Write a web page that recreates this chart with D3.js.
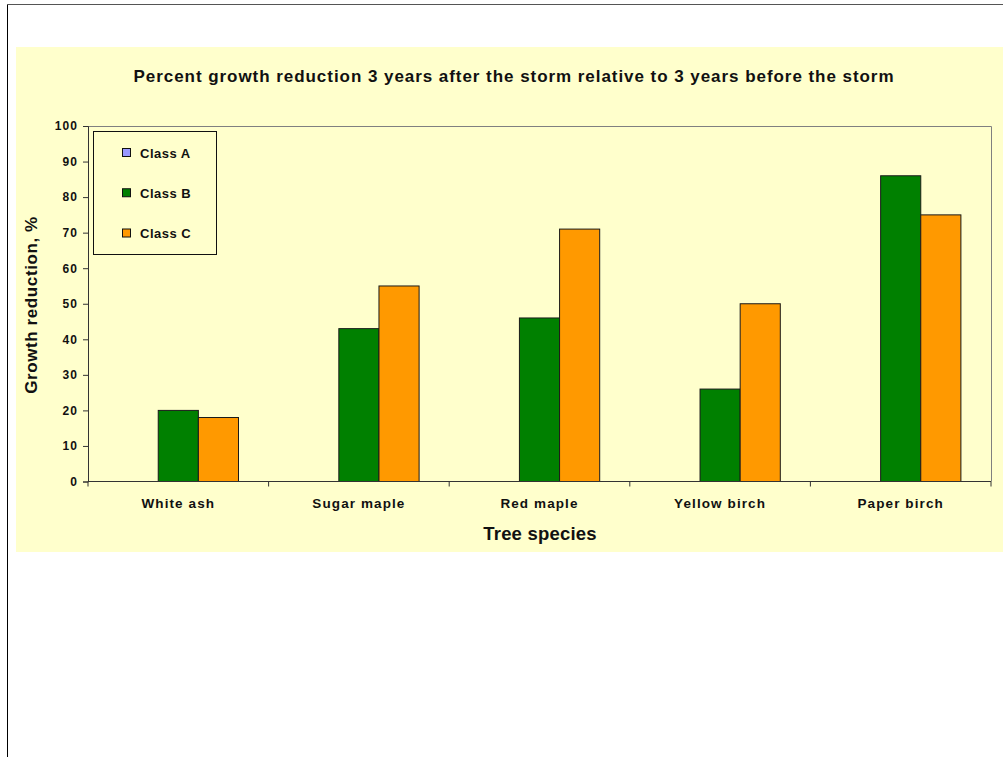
<!DOCTYPE html>
<html>
<head>
<meta charset="utf-8">
<script src="https://cdn.jsdelivr.net/npm/d3@7"></script>
<style>
  html, body { margin: 0; padding: 0; background: #ffffff; }
  svg { display: block; font-family: "Liberation Sans", Arial, sans-serif; }
</style>
</head>
<body>
<svg id="chart" width="1003" height="757"></svg>
<script>
// Tree species along the x axis
const species = ["White ash", "Sugar maple", "Red maple", "Yellow birch", "Paper birch"];
// Damage classes (one bar per class within each species)
const classes = ["Class A", "Class B", "Class C"];
const classColors = ["#9999FF", "#008000", "#FF9900"];
// Percent growth reduction per class; Class A has no values
const classA = [null, null, null, null, null];
const classB = [20, 43, 46, 26, 86];
const classC = [18, 55, 71, 50, 75];
const yTicks = [0, 10, 20, 30, 40, 50, 60, 70, 80, 90, 100];

const seriesValues = [classA, classB, classC];

const svg = d3.select("#chart");

// outer frame
svg.append("line").attr("x1", 7.5).attr("y1", 4.5).attr("x2", 1003).attr("y2", 4.5)
  .attr("stroke", "#555").attr("stroke-width", 1);
svg.append("line").attr("x1", 7.5).attr("y1", 4.5).attr("x2", 7.5).attr("y2", 757)
  .attr("stroke", "#000").attr("stroke-width", 1);

// chart area background
svg.append("rect").attr("x", 16).attr("y", 47).attr("width", 1003 - 16).attr("height", 505)
  .attr("fill", "#FFFFCC");

const plot = { left: 88, right: 991, top: 126, bottom: 481.5 };

const x = d3.scaleBand().domain(species).range([plot.left, plot.right]).paddingInner(0).paddingOuter(0);
const inner = d3.scaleBand().domain(classes)
  .range([x.bandwidth() / 6, x.bandwidth() * 5 / 6]).padding(0);
const y = d3.scaleLinear().domain([0, 100]).range([plot.bottom, plot.top]);

// plot area border (top and right)
svg.append("path")
  .attr("d", `M${plot.left},${plot.top + 0.5}H${plot.right + 0.5}V${plot.bottom}`)
  .attr("fill", "none").attr("stroke", "#808080").attr("stroke-width", 1);

// bars
const groups = svg.append("g").selectAll("g").data(species).join("g")
  .attr("transform", d => `translate(${x(d)},0)`);

groups.each(function(sp, i) {
  const g = d3.select(this);
  classes.forEach((cl, k) => {
    const v = seriesValues[k][i];
    if (v == null) return;
    g.append("rect")
      .attr("x", inner(cl))
      .attr("y", y(v))
      .attr("width", inner.bandwidth())
      .attr("height", y(0) - y(v))
      .attr("fill", classColors[k])
      .attr("stroke", "#1a1a1a")
      .attr("stroke-width", 1);
  });
});

// y axis
const yAxis = svg.append("g").attr("transform", `translate(${plot.left},0)`)
  .call(d3.axisLeft(y).tickValues(yTicks).tickSize(5).tickPadding(5).tickFormat(d3.format("d")));
yAxis.select(".domain").attr("stroke", "#333");
yAxis.selectAll(".tick line").attr("stroke", "#333");
yAxis.selectAll("text").attr("font-size", 12).attr("font-weight", "bold").attr("fill", "#111")
  .attr("letter-spacing", 1.1)
  .attr("font-family", "Liberation Sans, Arial, sans-serif");

// x axis with ticks at category boundaries
const xAxis = svg.append("g").attr("transform", `translate(0,${plot.bottom})`);
xAxis.append("line").attr("x1", plot.left).attr("x2", plot.right).attr("y1", 0).attr("y2", 0)
  .attr("stroke", "#333");
const boundaries = species.map(s => x(s)).concat([x(species[species.length - 1]) + x.bandwidth()]);
xAxis.selectAll("line.tk").data(boundaries).join("line").attr("class", "tk")
  .attr("x1", d => d).attr("x2", d => d).attr("y1", 0).attr("y2", 5).attr("stroke", "#333");
xAxis.selectAll("text").data(species).join("text")
  .attr("x", d => x(d) + x.bandwidth() / 2).attr("y", 26)
  .attr("text-anchor", "middle").attr("font-size", 13.5).attr("font-weight", "bold").attr("fill", "#111")
  .attr("letter-spacing", 1.1)
  .text(d => d);

// title
svg.append("text").attr("x", 514).attr("y", 81.5).attr("text-anchor", "middle")
  .attr("font-size", 17).attr("font-weight", "bold").attr("fill", "#111")
  .attr("letter-spacing", 0.95)
  .text("Percent growth reduction 3 years after the storm relative to 3 years before the storm");

// axis titles
svg.append("text").attr("x", 540).attr("y", 540).attr("text-anchor", "middle")
  .attr("font-size", 18.5).attr("font-weight", "bold").attr("fill", "#111")
  .attr("letter-spacing", 0.2)
  .text("Tree species");
svg.append("text").attr("transform", "translate(37,305) rotate(-90)").attr("text-anchor", "middle")
  .attr("font-size", 17).attr("font-weight", "bold").attr("fill", "#111")
  .attr("letter-spacing", 0.6)
  .text("Growth reduction, %");

// legend
const legend = svg.append("g");
legend.append("rect").attr("x", 93.5).attr("y", 131.5).attr("width", 123).attr("height", 123)
  .attr("fill", "#FFFFCC").attr("stroke", "#111").attr("stroke-width", 1);
const legendY = d3.scalePoint().domain(classes).range([152.5, 233]);
classes.forEach((cl, k) => {
  legend.append("rect").attr("x", 122.5).attr("y", legendY(cl) - 4).attr("width", 8).attr("height", 8)
    .attr("fill", classColors[k]).attr("stroke", "#111").attr("stroke-width", 1);
  legend.append("text").attr("x", 140).attr("y", legendY(cl) + 5)
    .attr("font-size", 13).attr("font-weight", "bold").attr("fill", "#111")
    .attr("letter-spacing", 0.5).text(cl);
});
</script>
</body>
</html>
